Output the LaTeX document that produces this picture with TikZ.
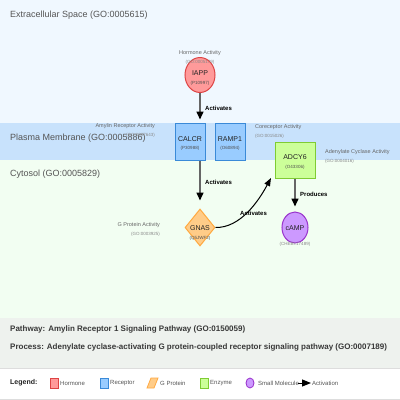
\documentclass[tikz,border=0pt]{standalone}
\usepackage{fontspec}
\setmainfont{Liberation Sans}
\usetikzlibrary{shapes.geometric,arrows.meta}
\definecolor{extraF}{HTML}{F0F8FF}
\definecolor{membF}{HTML}{C8E2FC}
\definecolor{cytoF}{HTML}{F2FEF2}
\definecolor{panelF}{HTML}{EEF2EE}
\definecolor{legB}{HTML}{DDDDDD}
\definecolor{hormF}{HTML}{FF9A9A}
\definecolor{hormB}{HTML}{DD4444}
\definecolor{recF}{HTML}{99CCFF}
\definecolor{recB}{HTML}{3A8AD8}
\definecolor{gpF}{HTML}{FFCC88}
\definecolor{gpB}{HTML}{FFA940}
\definecolor{enzF}{HTML}{CCFF99}
\definecolor{enzB}{HTML}{7FCC33}
\definecolor{smF}{HTML}{CC99FF}
\definecolor{smB}{HTML}{9933CC}
\definecolor{compT}{HTML}{555555}
\definecolor{goT}{HTML}{888888}
\definecolor{actT}{HTML}{666666}
\definecolor{nodeT}{HTML}{222222}
\definecolor{lineG}{HTML}{666666}
\newcommand{\fsz}[1]{\fontsize{#1}{#1}\selectfont}
\tikzset{
  comp/.style={anchor=west, text=compT, font=\fsz{9}, inner sep=0pt},
  nname/.style={text=nodeT, font=\fsz{7}, inner sep=0pt},
  nid/.style={text=nodeT!80, font=\fsz{4.5}, inner sep=0pt},
  act/.style={text=actT, font=\fsz{5.5}, inner sep=0pt},
  goid/.style={text=goT, font=\fsz{4.5}, inner sep=0pt},
  elab/.style={anchor=west, text=black, font=\bfseries\fsz{6}, inner sep=0pt},
  recbox/.style={rectangle, draw=recB, fill=recF, line width=1pt, minimum width=30pt, minimum height=37pt, inner sep=0pt},
  actline/.style={draw=lineG, line width=1.5pt, -{Triangle[length=8pt,width=7pt]}, arrows={[color=black]}},
  curveline/.style={draw=black, line width=1pt, -{Triangle[length=8pt,width=6pt]}},
  legtext/.style={anchor=west, text=compT, font=\fsz{6}, inner sep=0pt},
  info/.style={anchor=west, text=nodeT!90, font=\bfseries\fsz{8}, inner sep=0pt}
}
\begin{document}
\begin{tikzpicture}[x=1pt,y=-1pt]
\useasboundingbox (0,0) rectangle (400,400);
% compartments
\fill[extraF] (0,0) rectangle (400,123);
\fill[membF] (0,123) rectangle (400,160);
\fill[cytoF] (0,160) rectangle (400,318);
\fill[panelF] (0,318) rectangle (400,368);
\fill[white] (0,368) rectangle (400,400);
\draw[legB, line width=0.8pt] (0,368.5) -- (400,368.5);
\draw[legB, line width=0.8pt] (0,399.5) -- (400,399.5);
\node[comp] (lextra) at (10,15) {Extracellular Space (GO:0005615)};
\node[comp] (lmemb) at (10,138) {Plasma Membrane (GO:0005886)};
\node[comp] (lcyto) at (10,174) {Cytosol (GO:0005829)};
% IAPP
\node[ellipse, draw=hormB, fill=hormF, line width=1pt, minimum width=30pt, minimum height=35pt, inner sep=0pt] (iapp) at (200,75) {};
\node[nname] (iappn) at (200,73) {IAPP};
\node[nid] (iappi) at (200,83) {(P10997)};
\node[act] (iappa) at (200,53) {Hormone Activity};
\node[goid] (iappg) at (200,62) {(GO:0005179)};
% CALCR
\node[recbox] (calcr) at (190,141.5) {};
\node[nname] (calcrn) at (190,139) {CALCR};
\node[nid] (calcri) at (190,148) {(P30988)};
\node[act, anchor=east] (calcra) at (155,126) {Amylin Receptor Activity};
\node[goid, anchor=east] (calcrg) at (155,135) {(GO:0097643)};
% RAMP1
\node[recbox] (ramp) at (230,141.5) {};
\node[nname] (rampn) at (230,139) {RAMP1};
\node[nid] (rampi) at (230,148) {(O60894)};
\node[act, anchor=west] (rampa) at (255,127) {Coreceptor Activity};
\node[goid, anchor=west] (rampg) at (255,136) {(GO:0015026)};
% ADCY6
\node[rectangle, draw=enzB, fill=enzF, line width=1pt, minimum width=40pt, minimum height=36pt, inner sep=0pt] (adcy) at (295,160) {};
\node[nname] (adcyn) at (295,157) {ADCY6};
\node[nid] (adcyi) at (295,167) {(O43306)};
\node[act, anchor=west] (adcya) at (325,152) {Adenylate Cyclase Activity};
\node[goid, anchor=west] (adcyg) at (325,161) {(GO:0004016)};
% GNAS
\node[diamond, draw=gpB, fill=gpF, line width=1pt, minimum width=30pt, minimum height=37pt, inner sep=0pt] (gnas) at (200,227.5) {};
\node[nname] (gnasn) at (200,228) {GNAS};
\node[nid] (gnasi) at (200,238) {(Q5JWF2)};
\node[act, anchor=east] (gnasa) at (160,225) {G Protein Activity};
\node[goid, anchor=east] (gnasg) at (160,234) {(GO:0003925)};
% cAMP
\node[ellipse, draw=smB, fill=smF, line width=1pt, minimum width=26pt, minimum height=31pt, inner sep=0pt] (camp) at (295,227.5) {};
\node[nname] (campn) at (295,228) {cAMP};
\node[goid] (campi) at (295,244) {(CHEBI:17489)};
% connectors
\draw[actline, shorten >=3pt] (iapp.south) -- (iapp.south |- calcr.north);
\node[elab] (l1) at (205,108) {Activates};
\draw[actline, shorten >=8pt] (gnas.north |- calcr.south) -- (gnas.north);
\node[elab] (l2) at (205,182) {Activates};
\draw[actline, shorten >=5pt] (adcy.south) -- (camp.north);
\node[elab] (l3) at (300,194) {Produces};
\coordinate (adtip) at (271,178);
\draw[curveline] (gnas.east) .. controls (240,228) and (258,202) .. (adtip);
\node[elab] (l4) at (240,213) {Activates};
% info panel
\node[info] (path) at (10,329) {Pathway: Amylin Receptor 1 Signaling Pathway (GO:0150059)};
\node[info] (proc) at (10,347) {Process: Adenylate cyclase-activating G protein-coupled receptor signaling pathway (GO:0007189)};
% legend
\node[anchor=west, text=nodeT, font=\bfseries\fsz{7}, inner sep=0pt] (leg) at (10,383) {Legend:};
\node[rectangle, draw=hormB, fill=hormF, line width=0.8pt, minimum width=8pt, minimum height=10pt, inner sep=0pt] (lgh) at (54,383) {};
\node[legtext] (lght) at (60,383.5) {Hormone};
\node[rectangle, draw=recB, fill=recF, line width=0.8pt, minimum width=8pt, minimum height=10pt, inner sep=0pt] (lgr) at (104,383) {};
\node[legtext] (lgrt) at (110,383.5) {Receptor};
\draw[gpB, fill=gpF, line width=0.8pt] (147,388) -- (151,378) -- (158,378) -- (154,388) -- cycle;
\node[legtext] (lggt) at (160,383.5) {G Protein};
\node[rectangle, draw=enzB, fill=enzF, line width=0.8pt, minimum width=8pt, minimum height=10pt, inner sep=0pt] (lge) at (204,383) {};
\node[legtext] (lget) at (210,383.5) {Enzyme};
\node[ellipse, draw=smB, fill=smF, line width=0.8pt, minimum width=8pt, minimum height=10pt, inner sep=0pt] (lgs) at (250,383) {};
\node[legtext] (lgst) at (258,383.5) {Small Molecule};
\coordinate (lga1) at (298,383);
\coordinate (lga2) at (311,383);
\draw[black, line width=1pt, -{Triangle[length=9pt,width=7pt]}] (lga1) -- (lga2);
\node[legtext] (lgat) at (312,383.5) {Activation};
\end{tikzpicture}
\end{document}
